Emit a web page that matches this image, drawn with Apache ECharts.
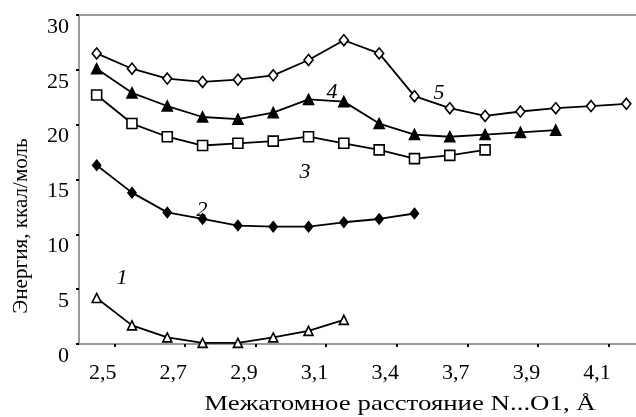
<!DOCTYPE html>
<html>
<head>
<meta charset="utf-8">
<script src="https://cdn.jsdelivr.net/npm/echarts@6/dist/echarts.min.js"></script>
<style>html,body{margin:0;padding:0;background:#fff}#c{width:636px;height:417px}</style>
</head>
<body>
<div id="c"></div>
<script>
// Category positions along the x axis (only every second one is labelled)
var categories = ['2,5','2,6','2,7','2,8','2,9','3,0','3,1','3,25','3,4','3,55','3,7','3,8','3,9','4,0','4,1','4,2'];
var yTicks = [0, 5, 10, 15, 20, 25, 30];

var series1 = [4.2, 1.7, 0.6, 0.1, 0.1, 0.6, 1.2, 2.2];
var series2 = [16.3, 13.8, 12.0, 11.4, 10.8, 10.7, 10.7, 11.1, 11.4, 11.9];
var series3 = [22.7, 20.1, 18.9, 18.1, 18.3, 18.5, 18.9, 18.3, 17.7, 16.9, 17.2, 17.7];
var series4 = [25.1, 22.9, 21.7, 20.7, 20.5, 21.1, 22.3, 22.1, 20.1, 19.1, 18.9, 19.1, 19.3, 19.5];
var series5 = [26.5, 25.1, 24.2, 23.9, 24.1, 24.5, 25.9, 27.7, 26.5, 22.6, 21.5, 20.8, 21.2, 21.5, 21.7, 21.9];

var seriesNames = ['1', '2', '3', '4', '5'];
var xTitle = 'Межатомное расстояние N...O1, Å';
var yTitle = 'Энергия, ккал/моль';

var FONT = '"Liberation Serif", "Times New Roman", serif';
var chart = echarts.init(document.getElementById('c'), null, {renderer: 'canvas'});

function mk(name, data, symbol, size, filled) {
  return {
    name: name, type: 'line', data: data, symbol: symbol, symbolSize: size,
    showAllSymbol: true,
    lineStyle: {color: '#000', width: 1.8},
    itemStyle: {color: filled ? '#000' : '#fff', borderColor: '#000', borderWidth: 1.6},
    emphasis: {disabled: true}, z: 3
  };
}

function num(x, y, t) {
  return {type: 'text', x: x, y: y, style: {text: t, font: 'italic 22px ' + FONT, fill: '#000', align: 'center', verticalAlign: 'middle'}};
}

chart.setOption({
  animation: false,
  backgroundColor: '#fff',
  grid: {left: 79, top: 15, width: 565, bottom: 73, outerBoundsMode: 'none', containLabel: false, show: true, borderColor: '#999', borderWidth: 2, backgroundColor: 'transparent'},
  xAxis: {
    type: 'category', data: categories, boundaryGap: true,
    axisLine: {lineStyle: {color: '#999', width: 2}},
    axisTick: {show: true, length: 3, lineStyle: {color: '#000', width: 2}, interval: function (i) { return i % 2 === 1; }},
    axisLabel: {interval: function (i) { return i % 2 === 0; }, color: '#000', fontFamily: FONT, fontSize: 22, margin: 18, padding: [0, 0, 0, 12]},
    splitLine: {show: false}
  },
  yAxis: {
    type: 'value', min: yTicks[0], max: yTicks[yTicks.length - 1], interval: 5,
    axisLine: {show: true, lineStyle: {color: '#999', width: 2}},
    axisTick: {show: true, length: 3, lineStyle: {color: '#000', width: 2}},
    axisLabel: {color: '#000', fontFamily: FONT, fontSize: 22, margin: 10, verticalAlign: 'top', lineHeight: 24},
    splitLine: {show: false}
  },
  series: [
    mk(seriesNames[0], series1, 'triangle', 9, false),
    mk(seriesNames[1], series2, 'diamond', [8, 10], true),
    mk(seriesNames[2], series3, 'rect', 10, false),
    mk(seriesNames[3], series4, 'triangle', 10, true),
    mk(seriesNames[4], series5, 'diamond', [9, 11], false)
  ],
  graphic: [
    {type: 'text', x: 400, y: 404, scaleX: 1.22, style: {text: xTitle, font: '22px ' + FONT, fill: '#000', align: 'center', verticalAlign: 'middle'}},
    {type: 'text', x: 21, y: 226, rotation: Math.PI / 2, scaleX: 0.96, style: {text: yTitle, font: '22px ' + FONT, fill: '#000', align: 'center', verticalAlign: 'middle'}},
    num(122, 278, seriesNames[0]),
    num(202, 210, seriesNames[1]),
    num(305, 172, seriesNames[2]),
    num(332, 92, seriesNames[3]),
    num(439, 93, seriesNames[4])
  ]
});
</script>
</body>
</html>
